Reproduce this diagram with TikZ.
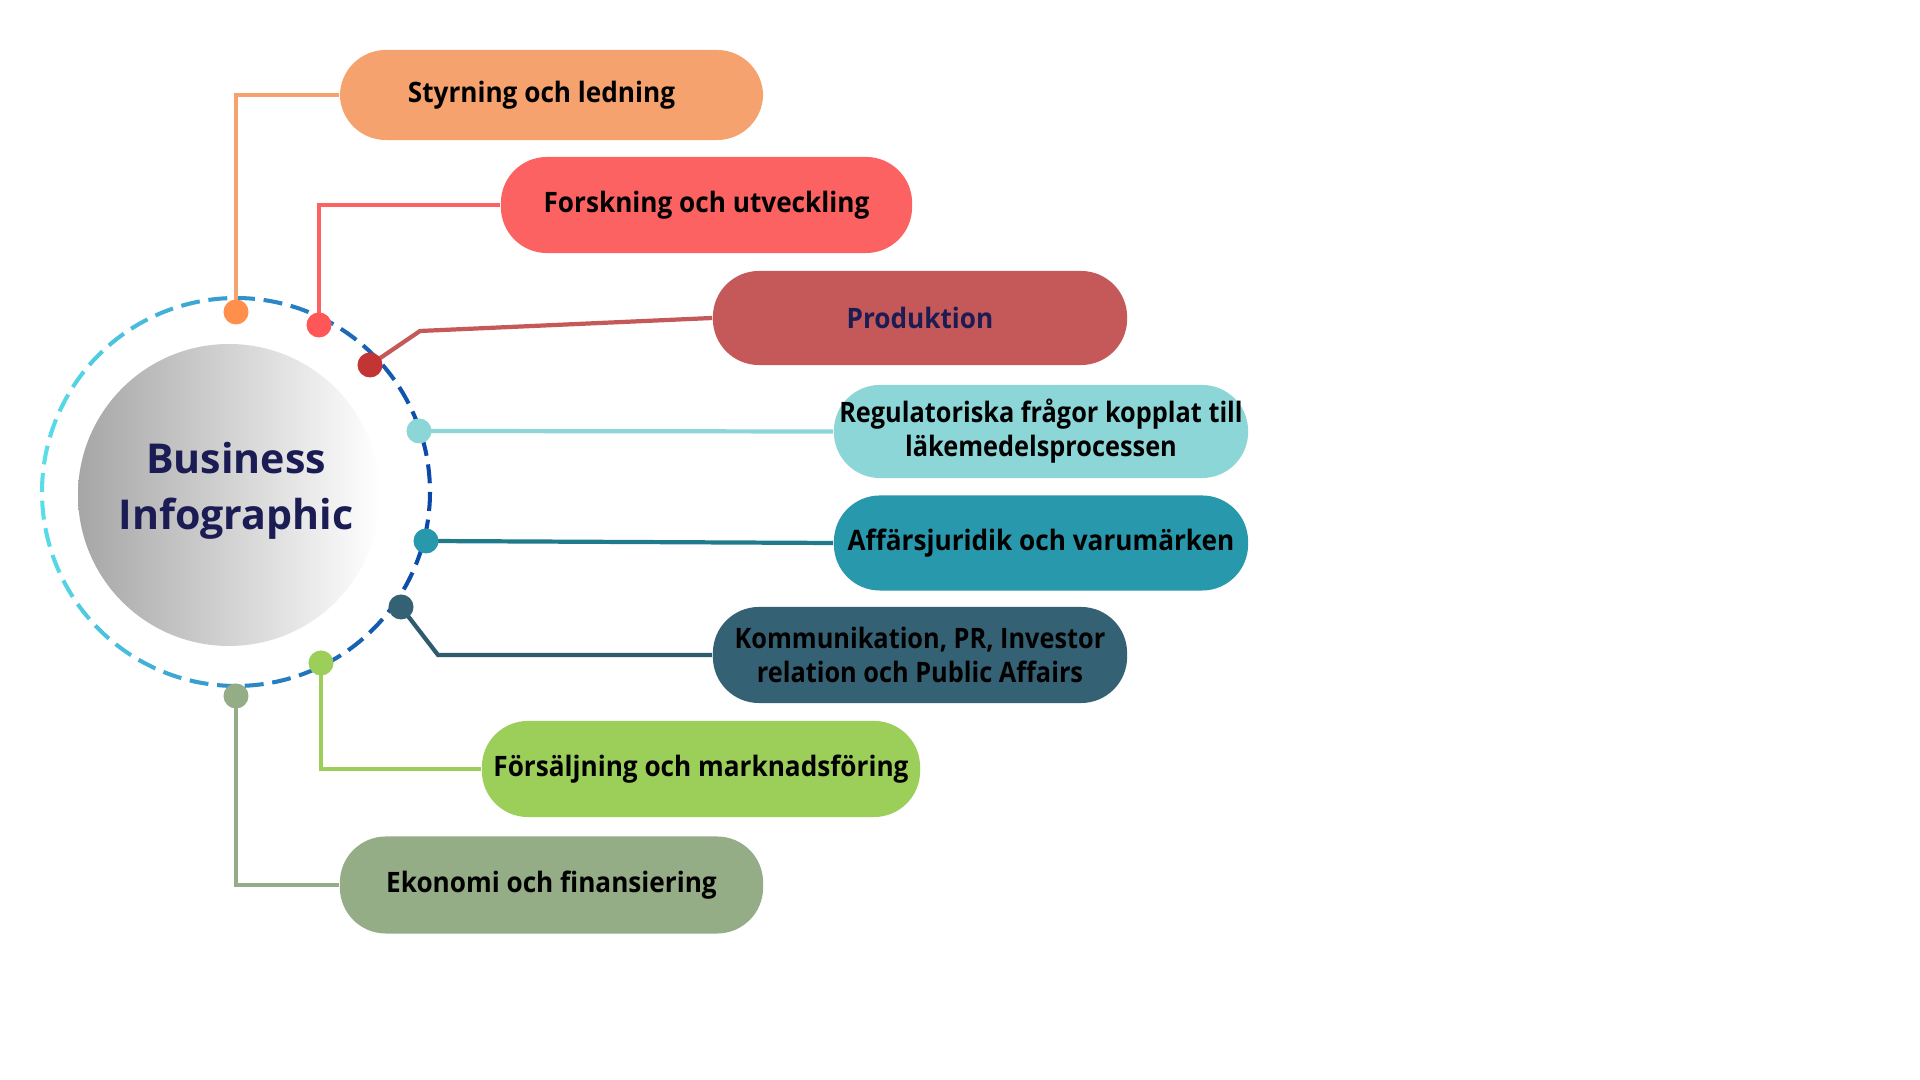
\documentclass[tikz,border=0pt]{standalone}
\usepackage{fontspec}
\setmainfont{Open Sans}
\newfontfamily\pillfont{Open Sans}[FakeStretch=0.93]
\newfontfamily\pillnarrow{Open Sans}[FakeStretch=0.90]
\usetikzlibrary{calc}
\definecolor{cOrange}{HTML}{F6A26E}
\definecolor{dOrange}{HTML}{FF8F4A}
\definecolor{cRed}{HTML}{FC6262}
\definecolor{dRed}{HTML}{FF5757}
\definecolor{cBrick}{HTML}{C55858}
\definecolor{dBrick}{HTML}{C33535}
\definecolor{cAqua}{HTML}{8DD6D8}
\definecolor{cTeal}{HTML}{2898AC}
\definecolor{lTeal}{HTML}{1F7B8C}
\definecolor{cSlate}{HTML}{346173}
\definecolor{lSlate}{HTML}{2E5B6E}
\definecolor{cGreen}{HTML}{9CCE5A}
\definecolor{cSage}{HTML}{94AD86}
\definecolor{cNavy}{HTML}{1C1C54}
\definecolor{ringL}{HTML}{58DDE9}
\definecolor{ringR}{HTML}{0A47A8}
\tikzset{
  pill/.style={rectangle, rounded corners=0.46cm, inner sep=0pt, align=center,
    font=\pillfont\fontsize{8}{9.7}\selectfont\bfseries, text=black},
  narrowpill/.style={pill, font=\pillnarrow\fontsize{8}{9.7}\selectfont\bfseries},
  link/.style={line width=1.2pt},
  dotmark/.style={circle, inner sep=0pt, minimum size=0.25cm},
}
\begin{document}
\begin{tikzpicture}[x=0.01cm, y=-0.01cm]
\useasboundingbox (0,0) rectangle (1920,1080);
\fill[white] (0,0) rectangle (1920,1080);

% centre
\coordinate (ctr) at (236,492);
\shade[left color=black!35, right color=white] (229,495) circle (151);
\node[font=\fontsize{11.7}{16}\selectfont\bfseries, text=cNavy, align=center] (title) at (236,491) {Business\\Infographic};

% dashed ring
\foreach \i in {0,...,43}{
  \pgfmathsetmacro\a{\i*360/44}
  \pgfmathsetmacro\t{int(50+50*cos(\a))}
  \draw[line width=1.15pt, color=ringR!\t!ringL] (ctr) ++(\a:194) arc[start angle=\a, end angle=\a+5.6, radius=194];
}

% boxes
\node[pill, fill=cOrange, minimum width=4.23cm, minimum height=0.90cm] (b1) at (551.5,95) {\raisebox{-1pt}{Styrning och ledning}\hspace*{0.2cm}};
\node[pill, fill=cRed, minimum width=4.11cm, minimum height=0.96cm] (b2) at (706.5,205) {\raisebox{-1pt}{Forskning och utveckling}};
\node[pill, fill=cBrick, minimum width=4.14cm, minimum height=0.94cm, text=cNavy] (b3) at (920,318) {Produktion};
\node[narrowpill, fill=cAqua, minimum width=4.14cm, minimum height=0.93cm] (b4) at (1041,431.5) {Regulatoriska frågor kopplat till\\läkemedelsprocessen};
\node[pill, fill=cTeal, minimum width=4.14cm, minimum height=0.95cm] (b5) at (1041,543) {Affärsjuridik och varumärken};
\node[narrowpill, fill=cSlate, minimum width=4.14cm, minimum height=0.96cm] (b6) at (920,655) {Kommunikation, PR, Investor\\relation och Public Affairs};
\node[pill, fill=cGreen, minimum width=4.38cm, minimum height=0.96cm] (b7) at (701,769) {Försäljning och marknadsföring};
\node[pill, fill=cSage, minimum width=4.23cm, minimum height=0.97cm] (b8) at (551.5,885) {Ekonomi och finansiering};

% dot positions
\coordinate (p1) at (236,312);
\coordinate (p2) at (319,325);
\coordinate (p3) at (370,365);
\coordinate (p4) at (419,431);
\coordinate (p5) at (426,541);
\coordinate (p6) at (401,607);
\coordinate (p7) at (321,663);
\coordinate (p8) at (236,696);
\coordinate (k3) at (420,331);
\coordinate (k6) at (438,655);

% connectors
\draw[link, cOrange] (p1) |- (b1.west);
\draw[link, cRed] (p2) |- (b2.west);
\draw[link, cBrick] (p3) -- (k3) -- (b3.west);
\draw[link, cAqua] (p4) -- (b4.west);
\draw[link, lTeal] (p5) -- (b5.west);
\draw[link, lSlate] (p6) -- (k6) -- (b6.west);
\draw[link, cGreen] (p7) |- (b7.west);
\draw[link, cSage] (p8) |- (b8.west);

% dots
\node[dotmark, fill=dOrange] (d1) at (p1) {};
\node[dotmark, fill=dRed] (d2) at (p2) {};
\node[dotmark, fill=dBrick] (d3) at (p3) {};
\node[dotmark, fill=cAqua] (d4) at (p4) {};
\node[dotmark, fill=cTeal] (d5) at (p5) {};
\node[dotmark, fill=cSlate] (d6) at (p6) {};
\node[dotmark, fill=cGreen] (d7) at (p7) {};
\node[dotmark, fill=cSage] (d8) at (p8) {};
\end{tikzpicture}
\end{document}
